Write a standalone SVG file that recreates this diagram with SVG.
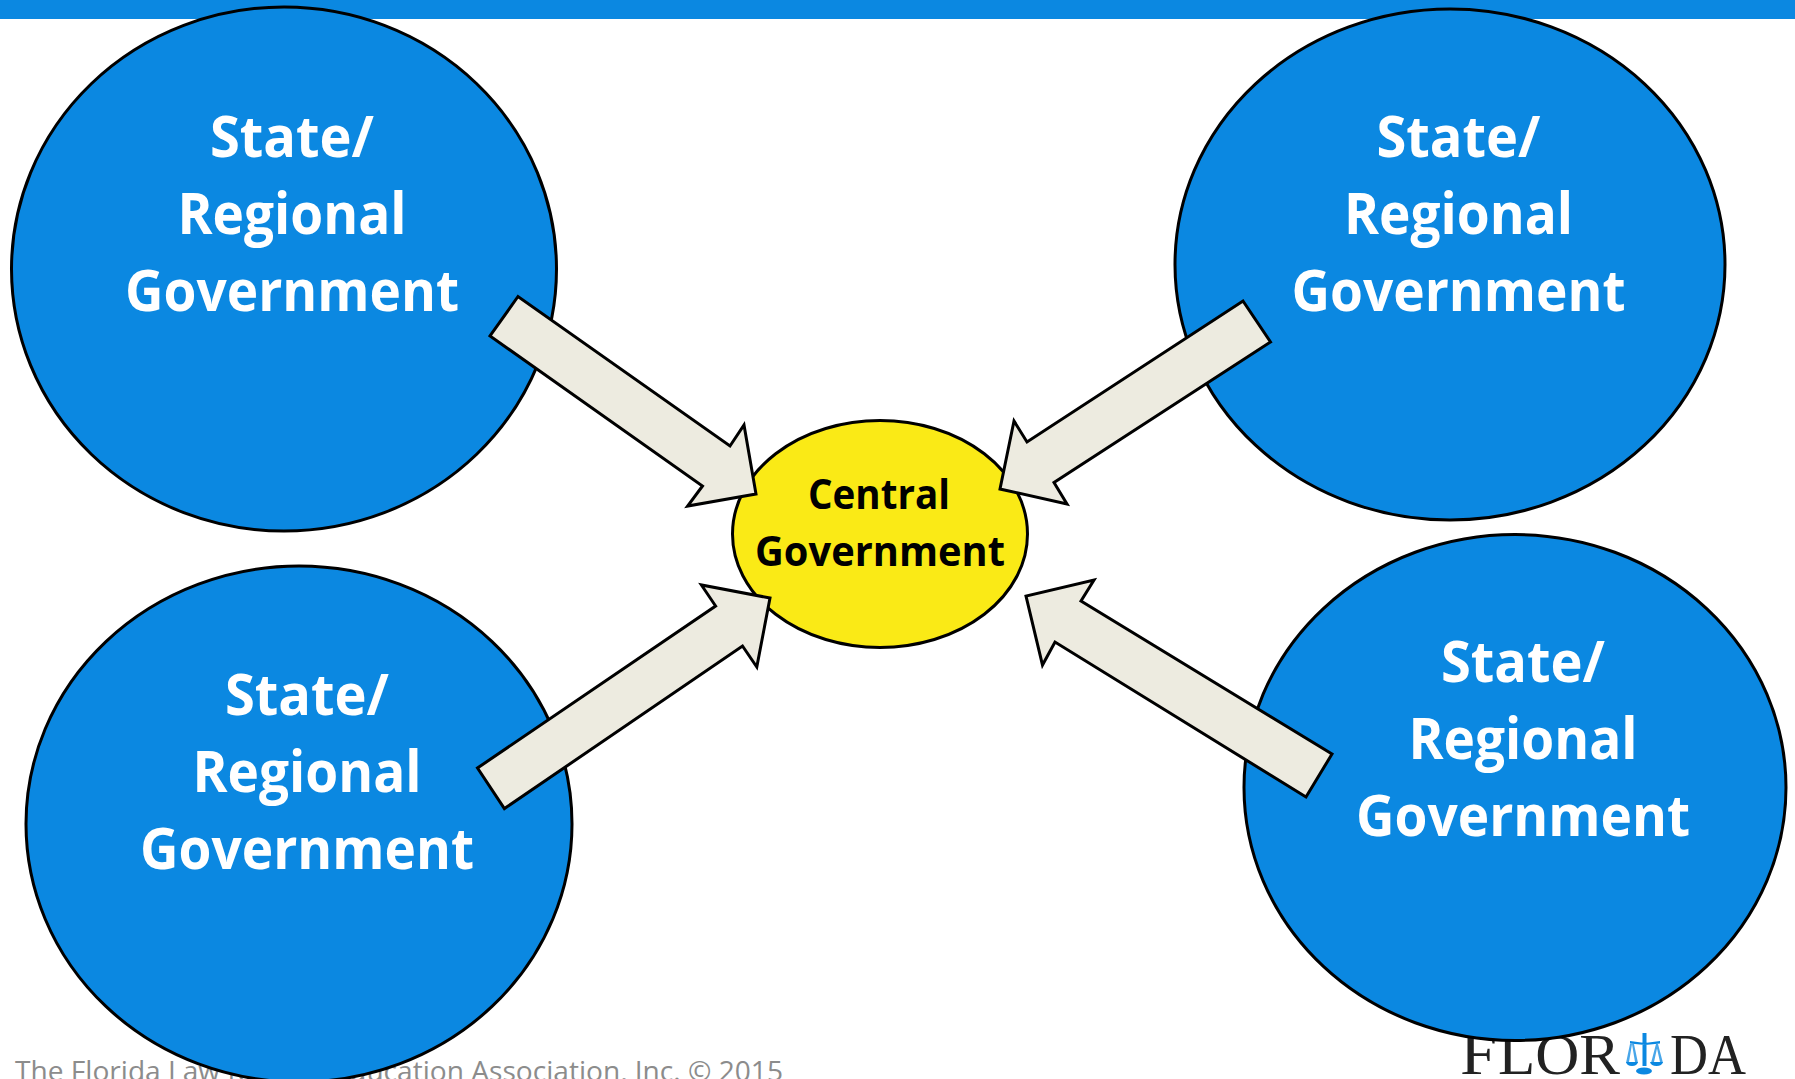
<svg xmlns="http://www.w3.org/2000/svg" width="1795" height="1079" viewBox="0 0 1795 1079">
<style>
.n{fill:#0b88e1;stroke:#000;stroke-width:3}
.t{font-family:"Open Sans","Liberation Sans",sans-serif;font-weight:700;font-size:58px;fill:#fff;text-anchor:middle}
.c{font-size:41px;fill:#000}
.a{fill:#edebe0;stroke:#000;stroke-width:3;stroke-miterlimit:10}
.f{font-family:"Open Sans","Liberation Sans",sans-serif;font-size:27px;fill:#8c8c8c}
.l{font-family:"Liberation Serif",serif;fill:#222}
.s{fill:#0b88e1}
</style>
<rect width="1795" height="19" fill="#0b88e1"/>
<text class="f" x="15" y="1081" textLength="768" lengthAdjust="spacingAndGlyphs">The Florida Law Related Education Association, Inc. © 2015</text>
<g id="logo">
<text class="l" x="1460" y="1074" font-size="62" textLength="37" lengthAdjust="spacingAndGlyphs">F</text>
<text class="l" x="1498" y="1074" font-size="57" textLength="122" lengthAdjust="spacingAndGlyphs">LOR</text>
<text class="l" x="1670" y="1074" font-size="57" textLength="76" lengthAdjust="spacingAndGlyphs">DA</text>
<g transform="translate(3 0)">
<path class="s" d="M1639.500 1033h4v33h-4zM1627 1041l15 2 15-2v2.500l-15 1.500-15-1.500z"/>
<path class="s" d="M1627 1044l-4 19h12l-4-19-2 0 3 18h-6l3-18zM1653 1044l-5 19h12l-5-19-2 0 4 18h-6l4-18z" opacity=".75"/>
<path class="s" d="M1623 1062h12q-1 4-6 4t-6-4zM1647 1062h13q-1 4-6.500 4t-6.500-4z"/>
<ellipse class="s" cx="1641" cy="1071" rx="8" ry="3.500"/>
</g>
</g>
<g id="node-top-left"><ellipse class="n" cx="284" cy="269" rx="272.500" ry="262"/>
<text class="t" x="292" y="157" textLength="164" lengthAdjust="spacingAndGlyphs">State/</text><text class="t" x="292" y="234" textLength="229" lengthAdjust="spacingAndGlyphs">Regional</text><text class="t" x="292" y="311" textLength="334" lengthAdjust="spacingAndGlyphs">Government</text></g>
<g id="node-top-right"><ellipse class="n" cx="1450" cy="264.500" rx="275" ry="255.500"/>
<text class="t" x="1458.500" y="157" textLength="164" lengthAdjust="spacingAndGlyphs">State/</text><text class="t" x="1458.500" y="234" textLength="229" lengthAdjust="spacingAndGlyphs">Regional</text><text class="t" x="1458.500" y="311" textLength="334" lengthAdjust="spacingAndGlyphs">Government</text></g>
<g id="node-bottom-left"><ellipse class="n" cx="299" cy="824" rx="273" ry="258"/>
<text class="t" x="307" y="714.500" textLength="164" lengthAdjust="spacingAndGlyphs">State/</text><text class="t" x="307" y="791.500" textLength="229" lengthAdjust="spacingAndGlyphs">Regional</text><text class="t" x="307" y="868.500" textLength="334" lengthAdjust="spacingAndGlyphs">Government</text></g>
<g id="node-bottom-right"><ellipse class="n" cx="1515" cy="787.500" rx="271" ry="253"/>
<text class="t" x="1523" y="681.500" textLength="164" lengthAdjust="spacingAndGlyphs">State/</text><text class="t" x="1523" y="758.500" textLength="229" lengthAdjust="spacingAndGlyphs">Regional</text><text class="t" x="1523" y="835.500" textLength="334" lengthAdjust="spacingAndGlyphs">Government</text></g>
<g id="node-central"><ellipse cx="880" cy="534" rx="147.500" ry="113.500" fill="#faea16" stroke="#000" stroke-width="3"/>
<text class="t c" x="879" y="509" textLength="142" lengthAdjust="spacingAndGlyphs">Central</text><text class="t c" x="880" y="566" textLength="250" lengthAdjust="spacingAndGlyphs">Government</text></g>
<g id="connectors">
<polygon class="a" points="518,296.500 490,336 702.500,486 687.600,506 756,494 744,425 730,446"/>
<polygon class="a" points="1243,301 1270.500,342 1054,482.500 1067,504 1000,489 1014,421 1027,442"/>
<polygon class="a" points="477.500,768 504.400,808.600 742.500,646 756.800,667 770,598 701.400,585 715.600,606"/>
<polygon class="a" points="1332,754 1306,797 1055,642 1042.500,665 1026,596 1094,580 1081,601"/>
</g>
</svg>
